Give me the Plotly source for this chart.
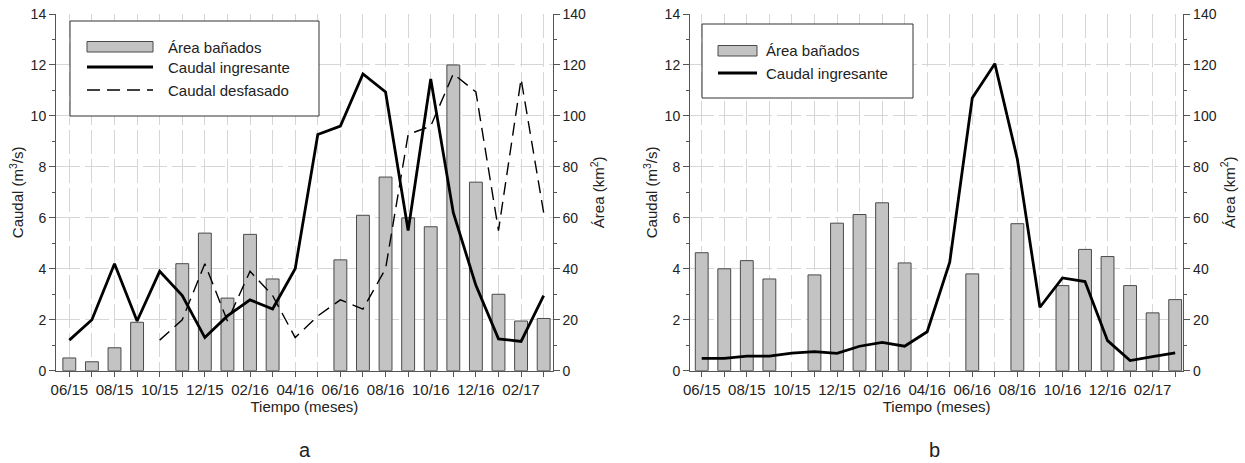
import plotly.graph_objects as go

# ---------------- data ----------------
months = list(range(22))  # 06/15 ... 03/17
tick_pos = [0, 2, 4, 6, 8, 10, 12, 14, 16, 18, 20]
tick_labels = ["06/15", "08/15", "10/15", "12/15", "02/16", "04/16",
               "06/16", "08/16", "10/16", "12/16", "02/17"]

# Panel a
area_a = [5, 3.5, 9, 19, None, 42, 54, 28.5, 53.5, 36, None, None,
          43.5, 61, 76, 60, 56.5, 120, 74, 30, 19.5, 20.5]
caudal_a = [1.2, 2.0, 4.2, 1.95, 3.9, 2.95, 1.3, 2.15, 2.78, 2.42, 4.0, 9.27,
            9.6, 11.65, 10.94, 5.5, 11.45, 6.2, 3.35, 1.25, 1.15, 2.95]
desfasado_a = [None, None, None, None, 1.2, 2.0, 4.2, 1.95, 3.9, 2.95, 1.3, 2.15,
               2.78, 2.42, 4.0, 9.27, 9.6, 11.65, 10.94, 5.5, 11.45, 6.2]

# Panel b
area_b = [46.3, 40, 43.2, 36, None, 37.6, 57.9, 61.3, 65.9, 42.3, None, None,
          38, None, 57.7, None, 33.4, 47.6, 44.8, 33.4, 22.7, 27.9]
caudal_b = [0.48, 0.48, 0.57, 0.57, 0.69, 0.75, 0.68, 0.96, 1.11, 0.96, 1.53, 4.26,
            10.7, 12.05, 8.3, 2.49, 3.64, 3.5, 1.18, 0.4, 0.55, 0.7]

# ---------------- styling ----------------
W, H = 1245, 463
FONT = "Liberation Sans, Arial, sans-serif"
TXT = "#222222"
BAR_FILL = "#c3c3c3"
BAR_LINE = "#4a4a4a"
GRID = "#d6d6d6"
AX = "#555555"

def px(x):
    return x / W

def py(y):
    return 1 - y / H

y_dom = [py(370.7), py(14)]
dom_a = [px(56), px(552.7)]
dom_b = [px(690), px(1183.3)]
xr_a = [-0.59, 21.4]
xr_b = [-0.52, 21.36]

fig = go.Figure()

# bars on the primary (Área, right side) axes so lines sit above them
fig.add_trace(go.Bar(x=months, y=area_a, width=0.57, xaxis="x", yaxis="y",
                     marker=dict(color=BAR_FILL, line=dict(color=BAR_LINE, width=1)),
                     name="Área bañados", showlegend=False))
fig.add_trace(go.Scatter(x=months, y=caudal_a, xaxis="x", yaxis="y2", mode="lines",
                         line=dict(color="black", width=2.8), connectgaps=False,
                         name="Caudal ingresante", showlegend=False))
fig.add_trace(go.Scatter(x=months, y=desfasado_a, xaxis="x", yaxis="y2", mode="lines",
                         line=dict(color="black", width=1.4, dash="13px,7px"),
                         name="Caudal desfasado", showlegend=False))

fig.add_trace(go.Bar(x=months, y=area_b, width=0.57, xaxis="x2", yaxis="y3",
                     marker=dict(color=BAR_FILL, line=dict(color=BAR_LINE, width=1)),
                     name="Área bañados", showlegend=False))
fig.add_trace(go.Scatter(x=months, y=caudal_b, xaxis="x2", yaxis="y4", mode="lines",
                         line=dict(color="black", width=2.8),
                         name="Caudal ingresante", showlegend=False))

xtickfont = dict(family=FONT, size=15, color=TXT)
ytickfont = dict(family=FONT, size=14, color=TXT)
titlefont = dict(family=FONT, size=15, color=TXT)

def xaxis_cfg(dom, rng, anchor):
    return dict(domain=dom, range=rng, anchor=anchor, tickmode="array",
                tickvals=tick_pos, ticktext=tick_labels, tickfont=xtickfont,
                ticks="outside", ticklen=5, tickcolor=AX,
                showline=True, linecolor=AX, linewidth=1, mirror=False,
                showgrid=True, gridcolor=GRID, griddash="24px,5px", gridwidth=1,
                minor=dict(tickmode="linear", tick0=0, dtick=1, ticks="outside",
                           ticklen=5, tickcolor=AX, showgrid=True,
                           gridcolor=GRID, griddash="24px,5px", gridwidth=1),
                title=dict(text="Tiempo (meses)", font=titlefont, standoff=2),
                zeroline=False, fixedrange=True, automargin=False)

def area_axis(anchor):
    return dict(domain=y_dom, range=[0, 140], anchor=anchor, side="right",
                tickmode="linear", tick0=0, dtick=20, tickfont=ytickfont,
                ticks="outside", ticklen=6, tickcolor=AX,
                showline=True, linecolor=AX, linewidth=1,
                showgrid=True, gridcolor=GRID, griddash="24px,5px", gridwidth=1,
                minor=dict(dtick=10, tick0=0, ticks="outside", ticklen=3,
                           tickcolor=AX, showgrid=False),
                title=dict(text="Área (km<sup>2</sup>)", font=titlefont, standoff=8),
                zeroline=False, fixedrange=True, automargin=False)

def caudal_axis(overlay, anchor):
    return dict(domain=y_dom, range=[0, 14], overlaying=overlay, anchor=anchor,
                side="left", tickmode="linear", tick0=0, dtick=2, tickfont=ytickfont,
                ticks="outside", ticklen=6, tickcolor=AX,
                showline=True, linecolor=AX, linewidth=1, showgrid=False,
                minor=dict(dtick=1, tick0=0, ticks="outside", ticklen=3,
                           tickcolor=AX, showgrid=False),
                title=dict(text="Caudal (m<sup>3</sup>/s)", font=titlefont, standoff=3),
                zeroline=False, fixedrange=True, automargin=False)

fig.update_layout(
    width=W, height=H, paper_bgcolor="white", plot_bgcolor="rgba(0,0,0,0)",
    margin=dict(l=0, r=0, t=0, b=0), autosize=False, showlegend=False,
    font=dict(family=FONT, color=TXT),
    barmode="overlay",
    xaxis=xaxis_cfg(dom_a, xr_a, "y"),
    xaxis2=xaxis_cfg(dom_b, xr_b, "y3"),
    yaxis=area_axis("x"),
    yaxis2=caudal_axis("y", "x"),
    yaxis3=area_axis("x2"),
    yaxis4=caudal_axis("y3", "x2"),
)

shapes = []
annotations = []

def add_text(x, y, text, size=15, xanchor="center"):
    annotations.append(dict(x=px(x), y=py(y), xref="paper", yref="paper",
                            text=text, showarrow=False,
                            xanchor=xanchor, yanchor="middle",
                            font=dict(family=FONT, size=size, color=TXT)))

add_text(305, 450, "a", 20)
add_text(934, 450, "b", 20)

def rect(x0, y0, x1, y1, fill, line, lw=1):
    shapes.append(dict(type="rect", xref="paper", yref="paper",
                       x0=px(x0), x1=px(x1), y0=py(y1), y1=py(y0),
                       fillcolor=fill, line=dict(color=line, width=lw)))

def hline(x0, x1, y, width, dash="solid"):
    shapes.append(dict(type="line", xref="paper", yref="paper",
                       x0=px(x0), x1=px(x1), y0=py(y), y1=py(y),
                       line=dict(color="black", width=width, dash=dash)))

# legend a
rect(70, 21, 319, 116, "white", "#333333", 1)
rect(87, 41.5, 153, 52, BAR_FILL, BAR_LINE, 1)
hline(87, 153, 67, 2.8)
hline(87, 153, 90, 1.4, "13px,7px")
add_text(166, 47, "Área bañados", 15, xanchor="left")
add_text(166, 67.5, "Caudal ingresante", 15, xanchor="left")
add_text(166, 90, "Caudal desfasado", 15, xanchor="left")

# legend b
rect(702, 24, 913, 98, "white", "#333333", 1)
rect(718, 45.5, 757, 56, BAR_FILL, BAR_LINE, 1)
hline(718, 757, 73, 2.8)
add_text(764, 50.5, "Área bañados", 15, xanchor="left")
add_text(764, 73, "Caudal ingresante", 15, xanchor="left")

fig.update_layout(shapes=shapes, annotations=annotations)

fig.write_html("out.html",
               config={"displayModeBar": False, "staticPlot": True},
               post_script="document.body.style.margin='0px';"
                           "document.body.style.overflow='hidden';")
